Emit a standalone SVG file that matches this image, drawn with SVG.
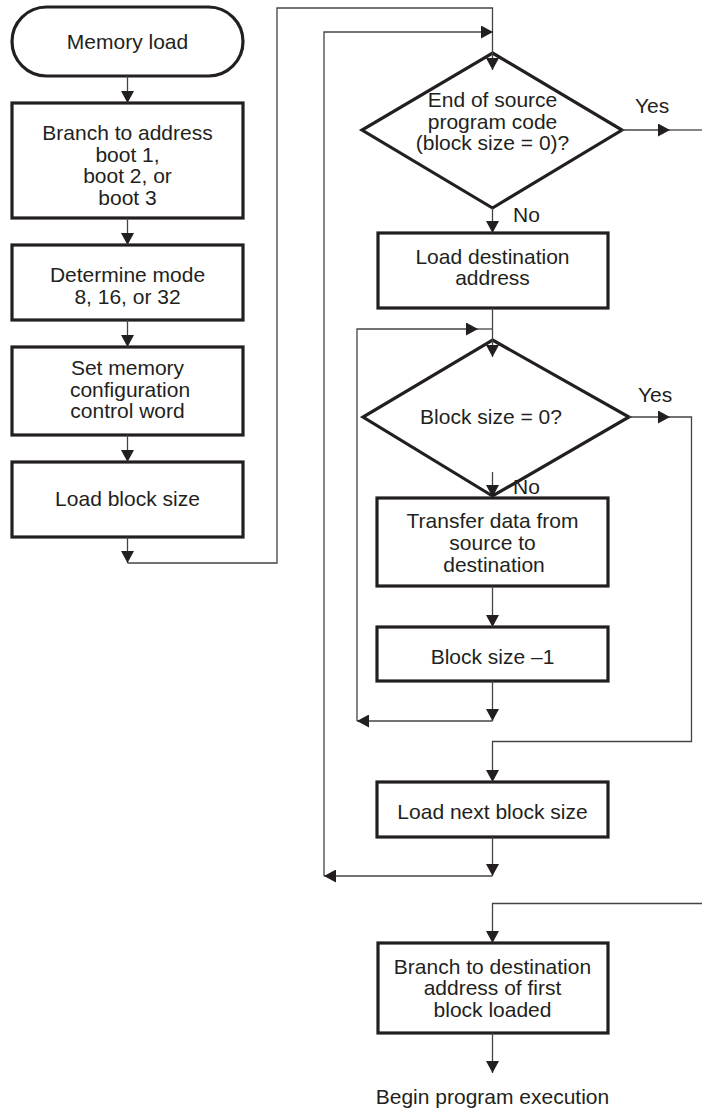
<svg xmlns="http://www.w3.org/2000/svg" width="702" height="1110" viewBox="0 0 702 1110">
<style>
.n{fill:#fff;stroke:#231f20;stroke-width:3.2;stroke-linejoin:miter}
.t{font-family:"Liberation Sans",Arial,sans-serif;font-size:21px;fill:#231f20;text-anchor:middle}
.l{font-family:"Liberation Sans",Arial,sans-serif;font-size:21px;fill:#231f20}
.c{fill:none;stroke:#444;stroke-width:1.3}
</style>
<defs>
<marker id="a" viewBox="0 0 12 13" refX="12" refY="6.5" markerWidth="12" markerHeight="13" markerUnits="userSpaceOnUse" orient="auto">
<path d="M0,0 L12,6.5 L0,13 z" fill="#231f20"/>
</marker>
</defs>
<rect width="702" height="1110" fill="#fff"/>
<g id="start">
<rect class="n" x="12" y="7" width="231" height="69" rx="34.5"/>
<text class="t" x="127.5" y="49">Memory load</text>
</g>
<g id="branch-boot">
<rect class="n" x="12" y="103" width="231" height="115"/>
<text class="t" x="127.5" y="140">Branch to address</text>
<text class="t" x="127.5" y="162">boot 1,</text>
<text class="t" x="127.5" y="183">boot 2, or</text>
<text class="t" x="127.5" y="205">boot 3</text>
</g>
<g id="mode">
<rect class="n" x="12" y="245" width="231" height="75"/>
<text class="t" x="127.5" y="282">Determine mode</text>
<text class="t" x="127.5" y="304">8, 16, or 32</text>
</g>
<g id="memcfg">
<rect class="n" x="12" y="347" width="231" height="88"/>
<text class="t" x="127.5" y="375">Set memory</text>
<text class="t" x="130" y="397">configuration</text>
<text class="t" x="127.5" y="418">control word</text>
</g>
<g id="loadsize">
<rect class="n" x="12" y="462" width="231" height="75"/>
<text class="t" x="127.5" y="506">Load block size</text>
</g>
<g id="endsrc">
<polygon class="n" points="492.5,53 622,130 492.5,208 362,130"/>
<text class="t" x="492.5" y="107">End of source</text>
<text class="t" x="492.5" y="128.5">program code</text>
<text class="t" x="492.5" y="149.5">(block size = 0)?</text>
</g>
<g id="loaddest">
<rect class="n" x="378" y="233" width="230" height="75"/>
<text class="t" x="492.5" y="263.5">Load destination</text>
<text class="t" x="492.5" y="285">address</text>
</g>
<g id="sizezero">
<polygon class="n" points="492.5,340 629,417 492.5,496 363,417"/>
<text class="t" x="491" y="423.5">Block size = 0?</text>
</g>
<g id="transfer">
<rect class="n" x="377" y="498" width="231" height="88"/>
<text class="t" x="492.5" y="528">Transfer data from</text>
<text class="t" x="492.5" y="550">source to</text>
<text class="t" x="494" y="572">destination</text>
</g>
<g id="decr">
<rect class="n" x="377" y="627" width="231" height="54"/>
<text class="t" x="492.5" y="663.5">Block size –1</text>
</g>
<g id="nextsize">
<rect class="n" x="377" y="782" width="231" height="55"/>
<text class="t" x="492.5" y="818.5">Load next block size</text>
</g>
<g id="branchdest">
<rect class="n" x="378" y="943" width="230" height="90"/>
<text class="t" x="492.5" y="973.5">Branch to destination</text>
<text class="t" x="492.5" y="995">address of first</text>
<text class="t" x="492.5" y="1016.5">block loaded</text>
</g>
<g id="end">
<text class="t" x="492.5" y="1104">Begin program execution</text>
</g>
<g id="connectors">
<path class="c" d="M127.5 76 V103" marker-end="url(#a)"/>
<path class="c" d="M127.5 218 V245" marker-end="url(#a)"/>
<path class="c" d="M127.5 320 V347" marker-end="url(#a)"/>
<path class="c" d="M127.5 435 V462" marker-end="url(#a)"/>
<path class="c" d="M127.5 537 V563" marker-end="url(#a)"/>
<path class="c" d="M127.5 563 H277 V8 H492.5 V53"/>
<path class="c" d="M492.5 53 V70" marker-end="url(#a)"/>
<path class="c" d="M492.5 837 V876" marker-end="url(#a)"/>
<path class="c" d="M492.5 876 H324" marker-end="url(#a)"/>
<path class="c" d="M324 876 V32 H493" marker-end="url(#a)"/>
<path class="c" d="M622 130 H670" marker-end="url(#a)"/>
<path class="c" d="M670 130 H702"/>
<text class="l" x="635" y="113">Yes</text>
<path class="c" d="M492.5 208 V233" marker-end="url(#a)"/>
<text class="l" x="513" y="222">No</text>
<path class="c" d="M492.5 308 V340"/>
<path class="c" d="M492.5 340 V357" marker-end="url(#a)"/>
<path class="c" d="M492.5 681 V721" marker-end="url(#a)"/>
<path class="c" d="M492.5 721 H357" marker-end="url(#a)"/>
<path class="c" d="M357 721 V329 H478" marker-end="url(#a)"/>
<path class="c" d="M478 329 H492.5"/>
<path class="c" d="M629 417 H670" marker-end="url(#a)"/>
<path class="c" d="M670 417 H691.5 V741.5 H492.5 V782" marker-end="url(#a)"/>
<text class="l" x="638" y="402">Yes</text>
<path class="c" d="M492.5 472 V497" marker-end="url(#a)"/>
<text class="l" x="513" y="494">No</text>
<path class="c" d="M492.5 586 V627" marker-end="url(#a)"/>
<path class="c" d="M702 903.5 H492.5 V943" marker-end="url(#a)"/>
<path class="c" d="M492.5 1033 V1073" marker-end="url(#a)"/>
</g>
</svg>
